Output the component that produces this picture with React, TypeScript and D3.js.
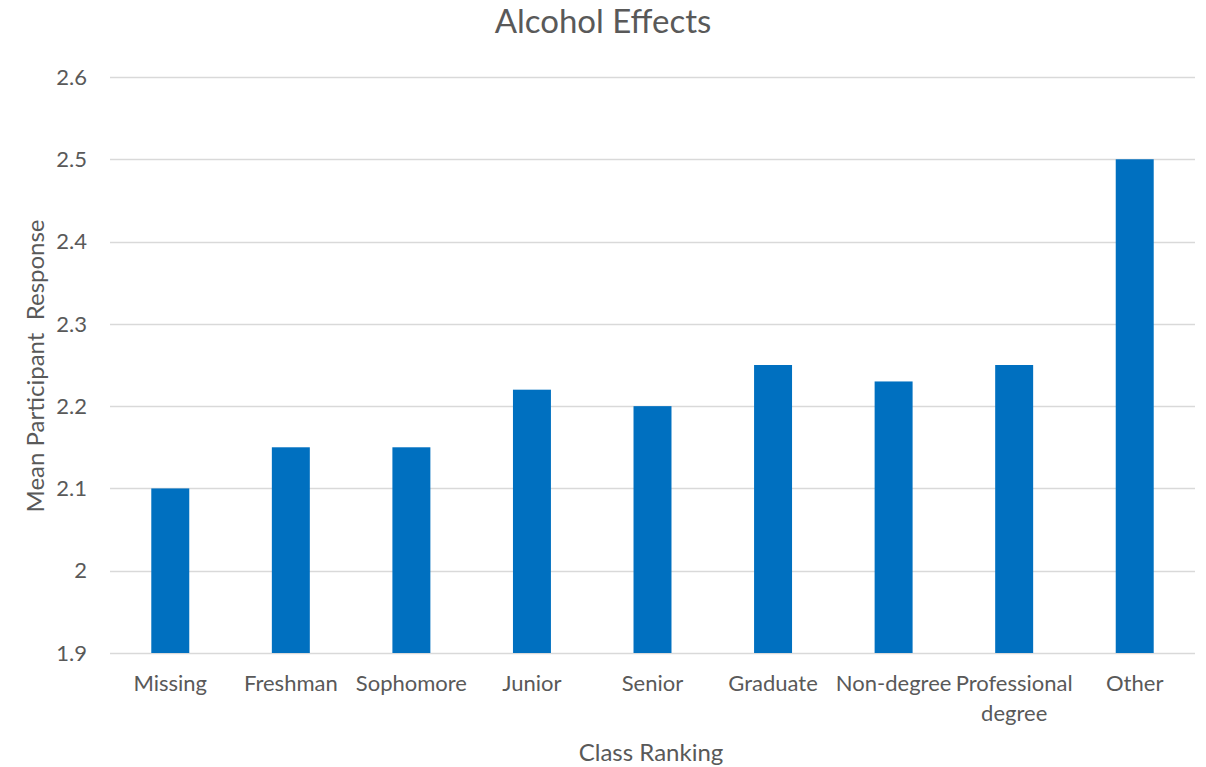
import React, { useEffect, useRef } from "react";
import * as d3 from "d3";

const categories = [
  "Missing",
  "Freshman",
  "Sophomore",
  "Junior",
  "Senior",
  "Graduate",
  "Non-degree",
  "Professional degree",
  "Other",
];
const values = [2.1, 2.15, 2.15, 2.22, 2.2, 2.25, 2.23, 2.25, 2.5];
const yTicks = [1.9, 2, 2.1, 2.2, 2.3, 2.4, 2.5, 2.6];

const W = 1206;
const H = 767;
const margin = { top: 77, right: 11, bottom: 114, left: 110 };
const font = "Lato, 'Open Sans', sans-serif";
const textColor = "#595959";

export default function App() {
  const ref = useRef<SVGSVGElement>(null);

  useEffect(() => {
    const svg = d3.select(ref.current);
    svg.selectAll("*").remove();

    const x = d3
      .scaleBand()
      .domain(categories)
      .range([margin.left, W - margin.right])
      .paddingInner(0.685)
      .paddingOuter(0.3425);

    const y = d3
      .scaleLinear()
      .domain([1.9, 2.6])
      .range([H - margin.bottom, margin.top]);

    // grid
    svg
      .append("g")
      .selectAll("line")
      .data(yTicks)
      .join("line")
      .attr("x1", margin.left)
      .attr("x2", W - margin.right)
      .attr("y1", (d) => Math.round(y(d)) + 0.5)
      .attr("y2", (d) => Math.round(y(d)) + 0.5)
      .attr("stroke", "#d9d9d9")
      .attr("stroke-width", 1.3);

    // y tick labels
    svg
      .append("g")
      .selectAll("text")
      .data(yTicks)
      .join("text")
      .attr("x", 87)
      .attr("y", (d) => y(d))
      .attr("dy", "0.35em")
      .attr("text-anchor", "end")
      .attr("font-family", font)
      .attr("font-size", 22)
      .attr("fill", textColor)
      .text((d) => d3.format("")(d));

    // bars
    svg
      .append("g")
      .selectAll("rect")
      .data(values)
      .join("rect")
      .attr("x", (_, i) => x(categories[i])!)
      .attr("width", x.bandwidth())
      .attr("y", (d) => y(d))
      .attr("height", (d) => y(1.9) - y(d))
      .attr("fill", "#0070C0");

    // x labels with wrapping
    const band = x.step();
    const labels = svg
      .append("g")
      .selectAll("text")
      .data(categories)
      .join("text")
      .attr("x", (d) => x(d)! + x.bandwidth() / 2)
      .attr("y", 691)
      .attr("text-anchor", "middle")
      .attr("font-family", font)
      .attr("font-size", 22)
      .attr("fill", textColor);

    labels.each(function (d) {
      const t = d3.select(this);
      const cx = x(d)! + x.bandwidth() / 2;
      const words = d.split(" ");
      let line: string[] = [];
      let tspan = t.append("tspan").attr("x", cx).attr("dy", 0);
      for (const w of words) {
        line.push(w);
        tspan.text(line.join(" "));
        if ((tspan.node() as SVGTSpanElement).getComputedTextLength() > band && line.length > 1) {
          line.pop();
          tspan.text(line.join(" "));
          line = [w];
          tspan = t.append("tspan").attr("x", cx).attr("dy", 30).text(w);
        }
      }
    });

    // title
    svg
      .append("text")
      .attr("x", 603)
      .attr("y", 33)
      .attr("text-anchor", "middle")
      .attr("font-family", font)
      .attr("font-size", 33)
      .attr("fill", textColor)
      .text("Alcohol Effects");

    // x axis title
    svg
      .append("text")
      .attr("x", 651)
      .attr("y", 761)
      .attr("text-anchor", "middle")
      .attr("font-family", font)
      .attr("font-size", 24)
      .attr("fill", textColor)
      .text("Class Ranking");

    // y axis title
    svg
      .append("text")
      .attr("transform", `translate(44, 366) rotate(-90)`)
      .attr("text-anchor", "middle")
      .attr("font-family", font)
      .attr("font-size", 24)
      .attr("fill", textColor)
      .attr("xml:space", "preserve")
      .style("white-space", "pre")
      .text("Mean Participant  Response");
  }, []);

  return (
    <svg
      ref={ref}
      width={W}
      height={H}
      style={{ position: "absolute", left: 0, top: 0, background: "#fff" }}
    />
  );
}
